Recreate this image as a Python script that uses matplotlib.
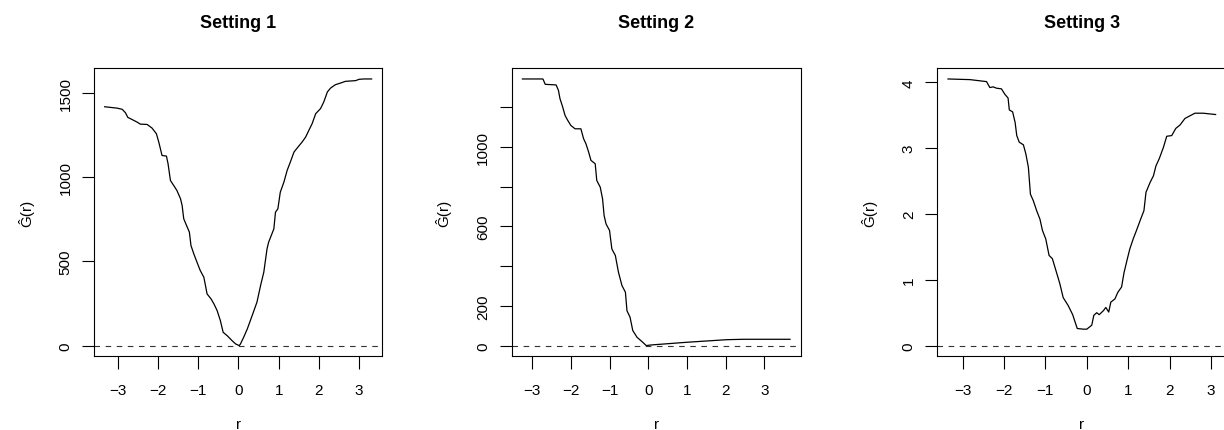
import matplotlib
matplotlib.use("Agg")
import matplotlib.pyplot as plt

plt.rcParams['font.family'] = ['Liberation Sans', 'DejaVu Sans']

# Setting 1
r1 = [-3.325, -3.02, -2.89, -2.81, -2.75, -2.65, -2.52, -2.44, -2.27, -2.15, -2.04, -1.98,
      -1.92, -1.90, -1.79, -1.75, -1.69, -1.61, -1.53, -1.44, -1.40, -1.36, -1.29, -1.22,
      -1.18, -1.11, -1.03, -0.95, -0.86, -0.82, -0.78, -0.68, -0.61, -0.53, -0.45, -0.38,
      -0.28, -0.16, -0.07, 0.02, 0.05, 0.13, 0.22, 0.34, 0.46, 0.55, 0.63, 0.71, 0.75,
      0.88, 0.92, 0.98, 1.04, 1.13, 1.21, 1.29, 1.38, 1.48, 1.58, 1.67, 1.75, 1.83, 1.92,
      2.04, 2.12, 2.21, 2.29, 2.41, 2.54, 2.66, 2.91, 3.00, 3.12, 3.31]
g1 = [1418, 1410, 1403, 1383, 1355, 1343, 1327, 1315, 1313, 1292, 1258, 1208,
      1149, 1129, 1125, 1080, 980, 951, 921, 872, 832, 753, 713, 674,
      594, 545, 495, 446, 406, 357, 307, 277, 248, 208, 149, 79,
      59, 30, 10, 0, 10, 50, 99, 178, 258, 357, 436, 574, 614,
      693, 792, 812, 911, 971, 1040, 1090, 1149, 1179, 1208, 1238, 1278, 1317, 1377,
      1407, 1446, 1506, 1529, 1549, 1559, 1569, 1573, 1581, 1583, 1583]

# Setting 2
r2 = [-3.25, -2.72, -2.66, -2.38, -2.32, -2.28, -2.21, -2.15, -2.09, -2.00, -1.89, -1.74,
      -1.67, -1.61, -1.54, -1.48, -1.37, -1.33, -1.24, -1.18, -1.14, -1.09, -1.00, -0.94,
      -0.85, -0.77, -0.68, -0.59, -0.55, -0.47, -0.40, -0.29, -0.16, -0.05, 0.05, 1.00,
      2.03, 2.47, 3.66]
g2 = [1343, 1343, 1316, 1313, 1286, 1244, 1202, 1160, 1138, 1109, 1092, 1092,
      1042, 1017, 975, 933, 916, 832, 798, 739, 655, 613, 580, 487,
      454, 370, 303, 269, 176, 143, 76, 42, 20, 0, 3, 17,
      30, 32, 32]

# Setting 3
r3 = [-3.35, -2.82, -2.42, -2.34, -2.26, -2.18, -2.06, -1.98, -1.90, -1.87, -1.79, -1.73,
      -1.69, -1.63, -1.53, -1.47, -1.41, -1.36, -1.29, -1.21, -1.13, -1.07, -0.99, -0.91,
      -0.83, -0.73, -0.65, -0.57, -0.45, -0.34, -0.23, -0.08, 0.00, 0.12, 0.17, 0.24,
      0.30, 0.40, 0.46, 0.53, 0.58, 0.68, 0.75, 0.84, 0.90, 0.98, 1.04, 1.12, 1.20,
      1.30, 1.38, 1.43, 1.53, 1.61, 1.67, 1.75, 1.85, 1.93, 2.05, 2.15, 2.25, 2.37,
      2.49, 2.61, 2.81, 3.11]
g3 = [4.05, 4.04, 4.01, 3.92, 3.93, 3.91, 3.90, 3.82, 3.76, 3.58, 3.55, 3.39,
      3.19, 3.09, 3.05, 2.91, 2.71, 2.30, 2.20, 2.05, 1.92, 1.75, 1.62, 1.37,
      1.32, 1.11, 0.94, 0.73, 0.61, 0.47, 0.26, 0.25, 0.25, 0.31, 0.46, 0.50,
      0.47, 0.53, 0.58, 0.51, 0.66, 0.71, 0.81, 0.89, 1.11, 1.32, 1.47, 1.62, 1.75,
      1.92, 2.05, 2.33, 2.48, 2.58, 2.73, 2.84, 3.01, 3.18, 3.19, 3.30, 3.35, 3.45,
      3.49, 3.53, 3.53, 3.51]

titles = ['Setting 1', 'Setting 2', 'Setting 3']
xticks = [-3, -2, -1, 0, 1, 2, 3]
yticks = [[0, 500, 1000, 1500],
          [0, 200, 400, 600, 800, 1000, 1200],
          [0, 1, 2, 3, 4]]
ylabels_shown = [['0', '500', '1000', '1500'],
                 ['0', '200', '', '600', '', '1000', ''],
                 ['0', '1', '2', '3', '4']]

W, H = 1224, 431
fig = plt.figure(figsize=(W / 100, H / 100), dpi=100)

# panel boxes in pixels: left, top, width, height
boxes = [(94, 69.3, 288.3, 288), (511.7, 69.3, 289, 288), (937.3, 69.3, 289, 288)]
series = [(r1, g1), (r2, g2), (r3, g3)]

for k in range(3):
    left, top, bw, bh = boxes[k]
    ax = fig.add_axes([left / W, (H - top - bh) / H, bw / W, bh / H])
    rr, gg = series[k]
    ax.plot(rr, gg, color='black', lw=0.9)
    ax.axhline(0, color='#333333', lw=0.8, dashes=(5, 5))

    # R-style 4% axis extension, y always from zero
    xr = max(rr) - min(rr)
    ax.set_xlim(min(rr) - 0.04 * xr, max(rr) + 0.04 * xr)
    ymax = max(gg)
    ax.set_ylim(-0.04 * ymax, 1.04 * ymax)

    ax.set_xticks(xticks)
    ax.set_xticklabels([str(v).replace('-', '\u2212') for v in xticks])
    ax.set_yticks(yticks[k])
    ax.set_yticklabels(ylabels_shown[k], rotation=90, va='center')
    ax.tick_params(axis='both', length=9, width=0.8, labelsize=11, color='black')
    ax.tick_params(axis='x', pad=10)
    ax.tick_params(axis='y', pad=6.5)
    for s in ax.spines.values():
        s.set_linewidth(0.8)

    ax.set_title(titles[k], fontsize=13, fontweight='bold', pad=29.5)
    ax.set_xlabel('r', fontsize=11)
    ax.set_ylabel('\u011c(r)', fontsize=11)
    ax.xaxis.set_label_coords(0.5, -61 / bh)
    ax.yaxis.set_label_coords(-60 / bw, 0.5)

fig.savefig('out.png', dpi=100)
